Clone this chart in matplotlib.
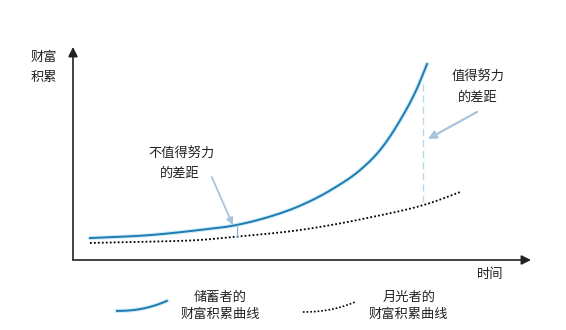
import numpy as np
import matplotlib
matplotlib.use("Agg")
import matplotlib.pyplot as plt

plt.rcParams['font.family'] = ['Noto Sans CJK SC', 'DejaVu Sans']

# data (time 0-100, wealth 0-100)
saver_t = [3.7, 16.8, 27.7, 34.9, 42.4, 49.6, 56.8, 63.1, 67.0, 71.4, 75.1, 77.3]
saver_w = [10.3, 11.7, 14.1, 16.1, 20.0, 25.5, 33.5, 43.0, 51.5, 65.5, 80.5, 92.0]
spender_t = [3.7, 19.0, 27.7, 34.9, 49.6, 64.2, 78.6, 84.5]
spender_w = [8.0, 8.7, 9.4, 10.8, 14.1, 19.7, 27.2, 31.9]

y_label = ["财富", "积累"]
x_label = "时间"
ann_big = ["值得努力", "的差距"]
ann_small = ["不值得努力", "的差距"]
legend_saver = ["储蓄者的", "财富积累曲线"]
legend_spender = ["月光者的", "财富积累曲线"]


def hermite(xs, ys, n=30):
    x = np.asarray(xs, float)
    y = np.asarray(ys, float)
    h = np.diff(x)
    d = np.diff(y) / h
    m = np.empty_like(y)
    m[0] = d[0]
    m[-1] = d[-1]
    # weighted average of neighbouring secants
    m[1:-1] = (d[:-1] * h[1:] + d[1:] * h[:-1]) / (h[:-1] + h[1:])
    X, Y = [], []
    for i in range(len(x) - 1):
        t = np.linspace(0, 1, n, endpoint=False)
        h00 = 2*t**3 - 3*t**2 + 1
        h10 = t**3 - 2*t**2 + t
        h01 = -2*t**3 + 3*t**2
        h11 = t**3 - t**2
        X.append(x[i] + t * h[i])
        Y.append(h00*y[i] + h10*h[i]*m[i] + h01*y[i+1] + h11*h[i]*m[i+1])
    X.append([x[-1]])
    Y.append([y[-1]])
    return np.concatenate(X), np.concatenate(Y)


W, H = 566, 330
fig = plt.figure(figsize=(W/100, H/100), dpi=100)
ax = fig.add_axes([73/W, (330-260)/H, (531-73)/W, (260-47)/H])
ax.set_xlim(0, 100)
ax.set_ylim(0, 100)
ax.axis('off')

blue = '#1f7bb0'
light = '#a9c4de'
txt = '#222222'
fs = 9.5

ts, ws = hermite(saver_t, saver_w)
ax.plot(ts, ws, color='#a8dcf2', lw=3.0, alpha=0.55, solid_capstyle='round', clip_on=False)
ax.plot(ts, ws, color=blue, lw=1.4, clip_on=False)

td, wd = hermite(spender_t, spender_w)
ax.plot(td, wd, color='black', lw=1.3, ls=(0, (1, 1.2)), clip_on=False)

# axes with arrows
axis_color = '#222222'
ax.annotate('', xy=(100, 0), xytext=(0, 0),
            arrowprops=dict(arrowstyle='-|>', color=axis_color, lw=1.2,
                            mutation_scale=14, shrinkA=0, shrinkB=0),
            annotation_clip=False)
ax.annotate('', xy=(0, 100), xytext=(0, 0),
            arrowprops=dict(arrowstyle='-|>', color=axis_color, lw=1.2,
                            mutation_scale=14, shrinkA=0, shrinkB=0),
            annotation_clip=False)

ax.text(-6.3, 95.3, y_label[0], ha='center', va='center', fontsize=fs, color=txt)
ax.text(-6.3, 85.9, y_label[1], ha='center', va='center', fontsize=fs, color=txt)
ax.text(91, -7, x_label, ha='center', va='center', fontsize=fs, color=txt)

# big gap annotation
xg = 76.4
ax.plot([xg, xg], [np.interp(xg, spender_t, spender_w) + 1, np.interp(xg, saver_t, saver_w) - 3],
        color='#b9d7ea', lw=1.0, ls=(0, (5, 3)))
ax.text(88.4, 85.9, ann_big[0], ha='center', va='center', fontsize=fs, color=txt)
ax.text(88.4, 76.5, ann_big[1], ha='center', va='center', fontsize=fs, color=txt)
ax.annotate('', xy=(77.5, 56.8), xytext=(88.2, 69.5),
            arrowprops=dict(arrowstyle='-|>', color=light, lw=1.6,
                            mutation_scale=12, shrinkA=0, shrinkB=0))

# small gap annotation
xs = 35.8
ax.plot([xs, xs], [np.interp(xs, spender_t, spender_w) + 0.5, np.interp(xs, saver_t, saver_w)],
        color='#7fb6d8', lw=0.8)
ax.text(23.8, 49.8, ann_small[0], ha='center', va='center', fontsize=fs, color=txt)
ax.text(23.4, 40.8, ann_small[1], ha='center', va='center', fontsize=fs, color=txt)
ax.annotate('', xy=(34.9, 16.4), xytext=(30.3, 39),
            arrowprops=dict(arrowstyle='-|>', color=light, lw=1.3,
                            mutation_scale=10, shrinkA=0, shrinkB=0))

# legend samples
u = np.linspace(0, 1, 40)
lx = 9.6 + (20.5 - 9.6) * u
ly = -23.9 + 4.7 * u**2.2
ax.plot(lx, ly, color='#a8dcf2', lw=3, alpha=0.55, clip_on=False)
ax.plot(lx, ly, color=blue, lw=1.4, clip_on=False)
dx = 50.2 + (61.6 - 50.2) * u
dy = -24.4 + 4.7 * u**2.2
ax.plot(dx, dy, color='black', lw=1.2, ls=(0, (1, 1.2)), clip_on=False)

ax.text(32.1, -17.4, legend_saver[0], ha='center', va='center', fontsize=fs, color=txt)
ax.text(32.1, -25.8, legend_saver[1], ha='center', va='center', fontsize=fs, color=txt)
ax.text(73.4, -17.4, legend_spender[0], ha='center', va='center', fontsize=fs, color=txt)
ax.text(73.2, -25.8, legend_spender[1], ha='center', va='center', fontsize=fs, color=txt)

fig.savefig('out.png', dpi=100, facecolor='white')
